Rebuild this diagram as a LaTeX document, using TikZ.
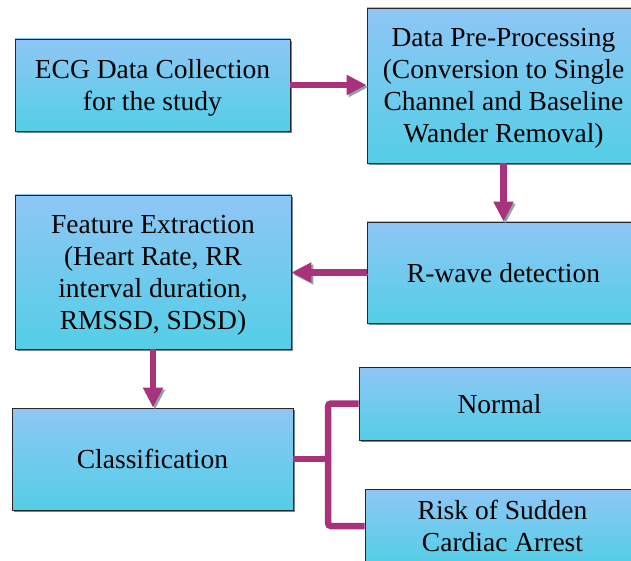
\documentclass[tikz,border=0pt]{standalone}
\usepackage{fontspec}
\setmainfont{Liberation Serif}
\usetikzlibrary{arrows.meta,shadows}
\definecolor{boxtop}{RGB}{142,198,245}
\definecolor{boxbot}{RGB}{84,206,230}
\definecolor{arrcol}{RGB}{168,50,123}
\definecolor{boxshd}{RGB}{118,132,142}
\definecolor{arrshd}{RGB}{143,163,173}
\tikzset{
  flowbox/.style={draw=black!85, line width=0.9pt, top color=boxtop, bottom color=boxbot,
    align=center, inner sep=0pt, text depth=0pt, font=\fontsize{27.5}{32}\selectfont,
    drop shadow={shadow xshift=2pt, shadow yshift=-2pt, fill=boxshd, opacity=1}},
  arrbody/.style={line width=6.5pt, -{Triangle[length=20pt,width=19pt]}},
  flowarrow/.style={arrbody, draw=arrcol, fill=arrcol,
    preaction={draw=arrshd, fill=arrshd, transform canvas={xshift=2pt,yshift=-2pt}}},
  connline/.style={line width=6.5pt, draw=arrcol, rounded corners=3pt,
    preaction={draw=arrshd, transform canvas={xshift=2pt,yshift=-2pt}}}
}
\begin{document}
\begin{tikzpicture}[x=1pt,y=-1pt]
\useasboundingbox[fill=white] (0,0) rectangle (631,561);
\node[flowbox, minimum width=275pt, minimum height=92pt] (b1) at (152.5,85)
  {ECG Data Collection\\for the study};
\node[flowbox, minimum width=273pt, minimum height=155pt] (b2) at (503.5,85.5)
  {Data Pre-Processing\\(Conversion to Single\\Channel and Baseline\\Wander Removal)};
\node[flowbox, minimum width=273pt, minimum height=101pt] (rw) at (503.5,272.5)
  {R-wave detection};
\node[flowbox, minimum width=276pt, minimum height=154pt] (fe) at (153,272)
  {Feature Extraction\\(Heart Rate, RR\\interval duration,\\RMSSD, SDSD)};
\node[flowbox, minimum width=281pt, minimum height=102pt] (cl) at (152.5,459)
  {Classification};
\node[flowbox, minimum width=281pt, minimum height=73pt] (no) at (499.5,403.5)
  {Normal};
\node[flowbox, minimum width=275pt, minimum height=74pt] (rs) at (502.5,526)
  {Risk of Sudden\\Cardiac Arrest};
\coordinate (jn) at (328,459);
\draw[flowarrow] (b1.east) -- (b1.east -| b2.west);
\draw[flowarrow] (b2.south) -- (rw.north);
\draw[flowarrow] (rw.west) -- (rw.west -| fe.east);
\draw[flowarrow] (fe.south) -- (fe.south |- cl.north);
\draw[connline] (cl.east) -- (cl.east -| jn);
\draw[connline] (no.west) -- (no.west -| jn) -- (rs.west -| jn) -- (rs.west);
\end{tikzpicture}
\end{document}
